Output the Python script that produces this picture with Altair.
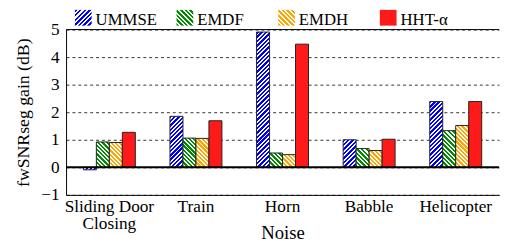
import altair as alt
import pandas as pd

# ---- data ----
noises = ["Sliding Door Closing", "Train", "Horn", "Babble", "Helicopter"]
methods = ["UMMSE", "EMDF", "EMDH", "HHT-α"]
ummse = [-0.09, 1.85, 4.91, 1.00, 2.39]
emdf = [0.92, 1.06, 0.52, 0.68, 1.33]
emdh = [0.90, 1.05, 0.46, 0.61, 1.52]
hht = [1.27, 1.69, 4.47, 1.02, 2.39]
y_ticks = [-1, 0, 1, 2, 3, 4, 5]

series = {"UMMSE": ummse, "EMDF": emdf, "EMDH": emdh, "HHT-α": hht}
rows = []
for m in methods:
    for n, v in zip(noises, series[m]):
        rows.append({"noise": n, "method": m, "value": v})
df = pd.DataFrame(rows)

# ---- style ----
FONT = "Liberation Serif, Times New Roman, serif"
PLOT_W, PLOT_H = 440, 168
Y_MIN, Y_MAX = -1, 5
PX_PER_UNIT = PLOT_H / (Y_MAX - Y_MIN)
PAD_INNER = 0.4
BAR_W = PLOT_W / len(noises) * (1 - PAD_INNER) / len(methods)

style = {
    "UMMSE": ("#0000ff", "/"),
    "EMDF": ("#008c00", "\\"),
    "EMDH": ("#ffa500", "\\"),
    "HHT-α": ("#ff1a1a", None),
}


def fill_for(method, w, h, period=4.4, frac=0.55):
    color, direction = style[method]
    if direction is None:
        return color
    h = max(h, 1.0)
    s = (w + h) / (w * w + h * h)
    dx, dy = w * s, h * s
    if direction == "/":
        x1, y1, x2, y2 = 0, 0, dx, dy
    else:
        x1, y1, x2, y2 = 0, 1, dx, 1 - dy
    n = max(1, round((w + h) / period))
    stops = []
    for k in range(n):
        a, b, c = k / n, (k + frac) / n, (k + 1) / n
        stops += [
            {"offset": a, "color": color},
            {"offset": b, "color": color},
            {"offset": b, "color": "white"},
            {"offset": c, "color": "white"},
        ]
    return {"gradient": "linear", "x1": x1, "y1": y1, "x2": x2, "y2": y2, "stops": stops}


x_scale = alt.Scale(domain=noises, paddingInner=PAD_INNER, paddingOuter=PAD_INNER / 2)
xo_scale = alt.Scale(domain=methods, paddingInner=0, paddingOuter=0)
y_scale = alt.Scale(domain=[Y_MIN, Y_MAX], nice=False, zero=False)

# axes drawn by one invisible full-data layer
axes_layer = (
    alt.Chart(df)
    .mark_bar(opacity=0)
    .encode(
        x=alt.X("noise:N", scale=x_scale, title="Noise", sort=noises),
        xOffset=alt.XOffset("method:N", scale=xo_scale),
        y=alt.Y("value:Q", scale=y_scale, title="fwSNRseg gain (dB)"),
    )
)

layers = [axes_layer]
for m in methods:
    for n, v in zip(noises, series[m]):
        f = fill_for(m, BAR_W, abs(v) * PX_PER_UNIT)
        layer = (
            alt.Chart(df)
            .transform_filter((alt.datum.noise == n) & (alt.datum.method == m))
            .mark_bar(fill=f, stroke="#222222", strokeWidth=1, opacity=1)
            .encode(
                x=alt.X("noise:N", scale=x_scale, title="Noise", sort=noises),
                xOffset=alt.XOffset("method:N", scale=xo_scale),
                y=alt.Y("value:Q", scale=y_scale, title="fwSNRseg gain (dB)"),
            )
        )
        layers.append(layer)

# reference lines: zero baseline and top frame
zero_line = alt.Chart(pd.DataFrame({"v": [0]})).mark_rule(color="black", strokeWidth=2).encode(
    y=alt.Y("v:Q", scale=y_scale, title="fwSNRseg gain (dB)"))
top_line = alt.Chart(pd.DataFrame({"v": [Y_MAX]})).mark_rule(color="black", strokeWidth=1).encode(
    y=alt.Y("v:Q", scale=y_scale, title="fwSNRseg gain (dB)"))
layers += [zero_line, top_line]

# manual legend with hatched swatches
LEG_X0, LEG_STEP, SW_W, SW_H = 9, 103.3, 17, 16
for i, m in enumerate(methods):
    x0 = LEG_X0 + i * LEG_STEP
    sw = alt.Chart(pd.DataFrame({"m": [m]})).mark_rect(fill=fill_for(m, SW_W, SW_H)).encode(
        x=alt.value(x0), x2=alt.value(x0 + SW_W), y=alt.value(-20), y2=alt.value(-20 + SW_H))
    tx = alt.Chart(pd.DataFrame({"m": [m]})).mark_text(
        align="left", baseline="alphabetic", font=FONT, fontSize=17, color="black"
    ).encode(text="m:N", x=alt.value(x0 + SW_W + 4), y=alt.value(-5))
    layers += [sw, tx]

chart = (
    alt.layer(*layers)
    .properties(
        width=PLOT_W, height=PLOT_H,
        autosize=alt.AutoSizeParams(type="none"),
        padding={"left": 59, "top": 20, "right": 1, "bottom": 48},
    )
    .configure_view(stroke="transparent")
    .configure_axisX(
        labelExpr="datum.value == 'Sliding Door Closing' ? ['Sliding Door', 'Closing'] : datum.value",
        labelAngle=0,
        labelFont=FONT, labelFontSize=17.5, labelLineHeight=17.5, labelPadding=3,
        labelBaseline="top", labelColor="black",
        ticks=False, grid=False, domainColor="black", domainWidth=1,
        titleFont=FONT, titleFontSize=19, titleFontWeight="normal", titleColor="black",
        titleY=44, titleBaseline="alphabetic",
    )
    .configure_axisY(
        values=y_ticks,
        labelFont=FONT, labelFontSize=17.5, labelPadding=7, labelColor="black",
        ticks=False, grid=True, gridDash=[3, 3], gridColor="black", gridWidth=0.8, gridOpacity=1,
        domainColor="black", domainWidth=1,
        titleFont=FONT, titleFontSize=18, titleFontWeight="normal", titleColor="black",
        titleX=-43, titleBaseline="middle",
    )
)

chart.save("out.html", embed_options={"renderer": "svg", "actions": False})
